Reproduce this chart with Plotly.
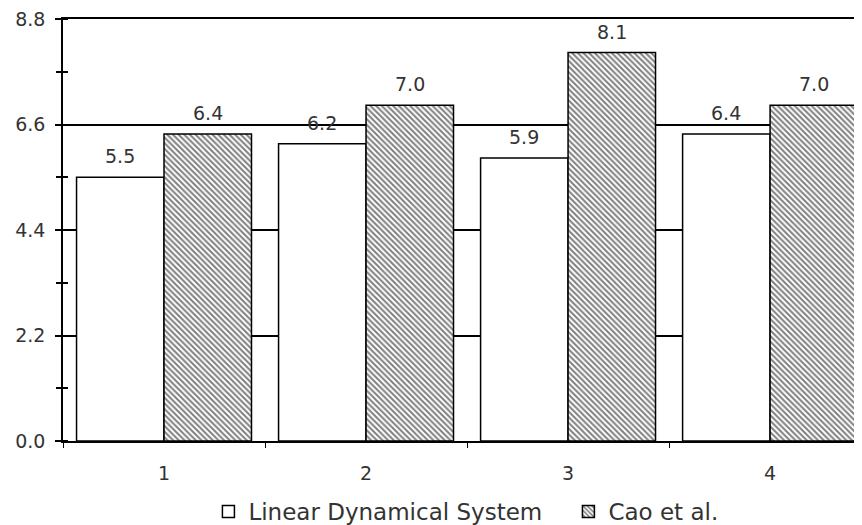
import plotly.graph_objects as go

categories = [1, 2, 3, 4]
tick_labels = ["1", "2", "3", "4"]
series_names = ["Linear Dynamical System", "Cao et al."]
lds_values = [5.5, 6.2, 5.9, 6.4]
cao_values = [6.4, 7.0, 8.1, 7.0]
y_ticks = [0.0, 2.2, 4.4, 6.6, 8.8]

FONT = "DejaVu Sans"
TXT = "#333333"
BARGAP = 0.134
half = (1 - BARGAP) / 4

fig = go.Figure()
fig.add_trace(go.Bar(
    x=categories, y=lds_values, name=series_names[0],
    marker=dict(color="white", line=dict(color="black", width=1.5)),
))
fig.add_trace(go.Bar(
    x=categories, y=cao_values, name=series_names[1],
    marker=dict(color="white", line=dict(color="black", width=1.5),
                pattern=dict(shape="\\", fgcolor="black", bgcolor="white",
                             size=4, solidity=0.5)),
))
# helper trace for the inner half of the crossing minor ticks
fig.add_trace(go.Scatter(x=[], y=[], yaxis="y2", showlegend=False, hoverinfo="skip"))

annotations = []
for vals, sign in ((lds_values, -1), (cao_values, 1)):
    for c, v in zip(categories, vals):
        annotations.append(dict(
            x=c + sign * half, y=v, xref="x", yref="y", text=f"{v:.1f}",
            showarrow=False, yanchor="bottom", yshift=8,
            font=dict(family=FONT, size=19, color=TXT)))

fig.update_layout(
    width=862, height=525,
    margin=dict(l=55, r=8, t=11, b=92, autoexpand=False),
    paper_bgcolor="white", plot_bgcolor="white",
    barmode="group", bargap=BARGAP, bargroupgap=0,
    font=dict(family=FONT, size=19, color=TXT),
    annotations=annotations,
    xaxis=dict(
        range=[0.5, 4.455], tickvals=categories, ticktext=tick_labels,
        ticks="", showgrid=False, zeroline=False,
        showline=True, linecolor="black", linewidth=1.5, mirror=True,
        ticklabelstandoff=14,
        minor=dict(tickvals=[0.5, 1.5, 2.5, 3.5, 4.5], ticks="outside",
                   ticklen=5, tickcolor="black", tickwidth=1, showgrid=False),
    ),
    yaxis=dict(
        range=[0, 8.8], tickvals=y_ticks, tickformat=".1f",
        ticks="outside", ticklen=6, tickcolor="black", tickwidth=1.5,
        showgrid=True, gridcolor="black", gridwidth=1.5, zeroline=False,
        showline=True, linecolor="black", linewidth=1.5,
        ticklabelstandoff=6, ticklabeloverflow="allow",
        minor=dict(dtick=1.1, ticks="outside", ticklen=5, tickcolor="black",
                   tickwidth=1.5, showgrid=False),
    ),
    yaxis2=dict(
        overlaying="y", side="left", range=[0, 8.8], tickvals=y_ticks,
        ticks="", showticklabels=False, showgrid=False, zeroline=False,
        showline=False,
        minor=dict(dtick=1.1, ticks="inside", ticklen=5, tickcolor="black",
                   tickwidth=1.5, showgrid=False),
    ),
    legend=dict(
        orientation="h", x=0.182, xanchor="left",
        yref="container", y=0.0, yanchor="bottom",
        font=dict(family=FONT, size=23, color=TXT),
        traceorder="normal", entrywidth=315, entrywidthmode="pixels",
    ),
)

fig.write_html("out.html")
